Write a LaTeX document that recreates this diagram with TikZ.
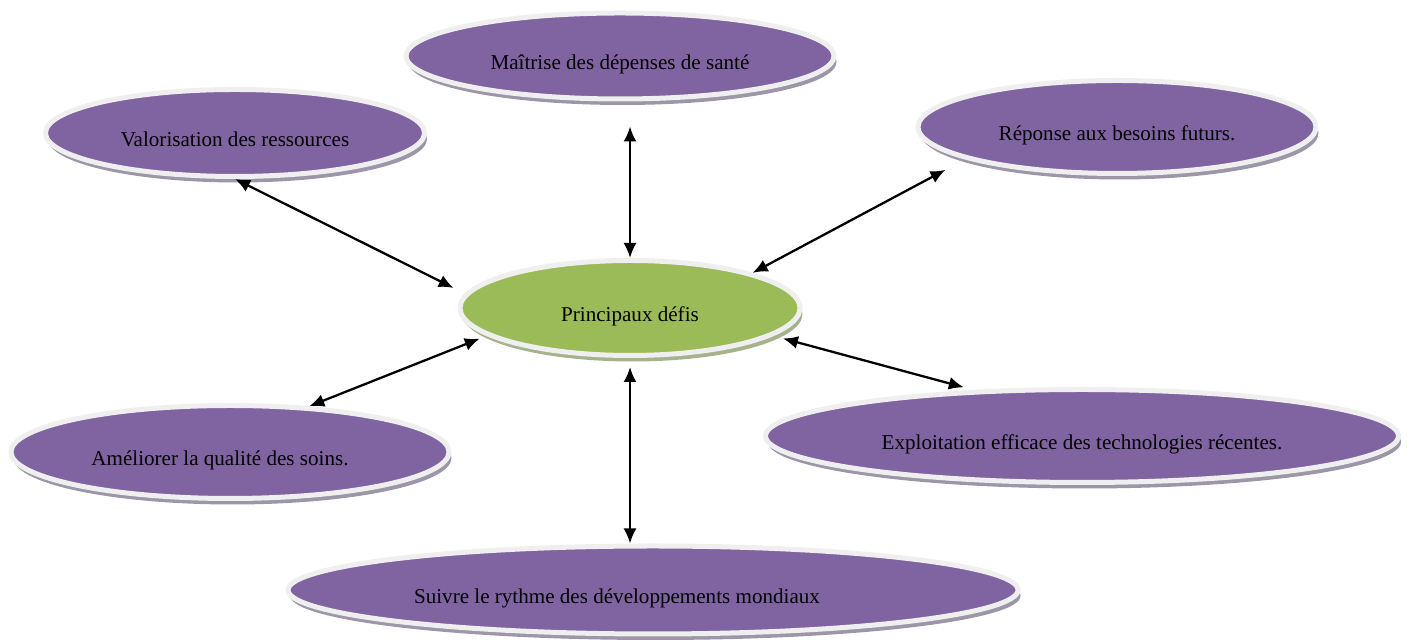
\documentclass[tikz,border=0pt]{standalone}
\usepackage{fontspec}
\setmainfont{Liberation Serif}
\usetikzlibrary{shapes.geometric,shadows,arrows.meta}

\definecolor{violetfill}{HTML}{8064A2}
\definecolor{vertfill}{HTML}{9BBB59}
\definecolor{anneau}{HTML}{EFEFEF}
\definecolor{ombreviolet}{HTML}{9D95A8}
\definecolor{ombrevert}{HTML}{A5B38C}

\tikzset{
  bulle/.style={ellipse, draw=anneau, line width=1mm, inner sep=0pt,
    text height=6.3mm, text depth=0.9mm, font=\fontsize{12}{14}\selectfont},
  defi/.style={bulle, fill=violetfill,
    drop shadow={shadow xshift=0.05cm, shadow yshift=-0.12cm, fill=ombreviolet, opacity=1}},
  centre/.style={bulle, fill=vertfill,
    drop shadow={shadow xshift=0.05cm, shadow yshift=-0.12cm, fill=ombrevert, opacity=1}},
  liaison/.style={{Latex[length=3mm,width=2.6mm]}-{Latex[length=3mm,width=2.6mm]}, line width=1.3pt}
}

\begin{document}
\begin{tikzpicture}
    \useasboundingbox (0,0) rectangle (28.18,12.8);

    \node[centre, minimum width=6.8cm, minimum height=1.9cm] (pd) at (12.60,6.64) {Principaux défis};

    \node[defi, minimum width=8.56cm, minimum height=1.72cm] (mai) at (12.40,11.68) {Maîtrise des dépenses de santé};
    \node[defi, minimum width=7.58cm, minimum height=1.74cm] (val) at (4.70,10.14) {Valorisation des ressources};
    \node[defi, minimum width=7.96cm, minimum height=1.86cm] (rep) at (22.34,10.26) {Réponse aux besoins futurs.};
    \node[defi, minimum width=8.76cm, minimum height=1.86cm] (ame) at (4.60,3.76) {Améliorer la qualité des soins.\hspace*{0.4cm}};
    \node[defi, minimum width=12.66cm, minimum height=1.86cm] (exp) at (21.64,4.08) {Exploitation efficace des technologies récentes.};
    \node[defi, minimum width=14.6cm, minimum height=1.76cm] (sui) at (13.06,1.0) {Suivre le rythme des développements mondiaux\hspace*{1.44cm}};

    % liaisons vers le centre
    \draw[liaison, shorten <=0.5cm] (pd.north |- mai.south) -- (pd.north);
    \draw[liaison, shorten >=0.25cm] (val.south) -- (pd.175);
    \draw[liaison, shorten <=0.45cm] (rep.192) -- (pd.16);
    \draw[liaison, shorten >=0.15cm] (ame.30) -- (pd.191);
    \draw[liaison, shorten <=0.2cm, shorten >=0.2cm] (exp.157) -- (pd.-11);
    \draw[liaison, shorten <=0.18cm] (pd.south) -- (pd.south |- sui.north);
\end{tikzpicture}
\end{document}
